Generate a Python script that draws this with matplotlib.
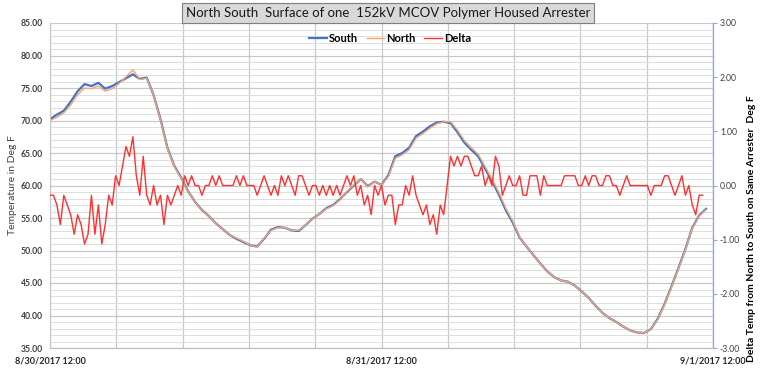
import matplotlib
matplotlib.use('Agg')
import matplotlib.pyplot as plt
import numpy as np

plt.rcParams['font.family'] = ['Lato', 'DejaVu Sans']

# temperaturas a cada 30 min (horas desde 8/30/2017 12:00)
south = [70.2, 70.9, 71.5, 72.9, 74.5, 75.6, 75.3, 75.8, 74.9, 75.3,
         75.9, 76.5, 77.1, 76.4, 76.6, 73.9, 70.2, 65.8, 63.0, 61.2,
         59.1, 57.5, 56.2, 55.3, 54.2, 53.3, 52.4, 51.8, 51.3, 50.8,
         50.6, 51.8, 53.2, 53.6, 53.5, 53.1, 53.0, 53.9, 54.9, 55.6,
         56.5, 57.0, 57.9, 59.0, 60.0, 61.0, 59.9, 60.6, 60.1, 61.6,
         64.5, 65.0, 65.8, 67.6, 68.3, 69.1, 69.7, 69.8, 69.6, 68.2,
         66.6, 65.5, 64.5, 62.6, 60.7, 58.6, 56.2, 54.3, 52.0, 50.6,
         49.3, 48.0, 46.8, 45.9, 45.4, 45.2, 44.6, 43.7, 42.7, 41.5,
         40.4, 39.6, 39.0, 38.3, 37.7, 37.4, 37.3, 37.9, 39.5, 41.8,
         44.5, 47.3, 50.2, 53.5, 55.4, 56.4]
north = [70.0, 70.5, 71.2, 72.4, 74.0, 75.0, 74.9, 75.3, 74.5, 74.9,
         75.7, 76.7, 77.8, 76.3, 76.5, 73.9, 70.1, 65.7, 62.9, 61.1,
         59.1, 57.5, 56.1, 55.3, 54.2, 53.3, 52.4, 51.9, 51.4, 50.8,
         50.5, 51.9, 53.1, 53.5, 53.5, 53.1, 53.1, 53.9, 54.9, 55.6,
         56.4, 56.9, 57.8, 59.1, 60.1, 61.0, 59.8, 60.6, 60.1, 61.4,
         64.2, 64.7, 65.5, 67.3, 68.0, 68.8, 69.5, 69.8, 69.8, 68.5,
         66.9, 65.8, 64.8, 62.9, 61.0, 58.9, 56.5, 54.5, 52.1, 50.6,
         49.3, 48.0, 46.8, 45.9, 45.4, 45.2, 44.6, 43.7, 42.7, 41.5,
         40.4, 39.6, 39.0, 38.3, 37.7, 37.4, 37.3, 37.9, 39.4, 41.7,
         44.4, 47.2, 50.1, 53.4, 55.3, 56.3]

# delta norte - sul a cada 15 min
delta = [-0.18, -0.18, -0.36, -0.72, -0.18, -0.36, -0.54, -0.90, -0.54, -0.72,
         -1.08, -0.90, -0.18, -0.90, -0.36, -1.08, -0.72, -0.18, -0.36, 0.18,
         0.00, 0.36, 0.72, 0.54, 0.90, 0.18, -0.18, 0.54, -0.18, -0.36,
         0.00, -0.36, -0.18, -0.72, -0.18, -0.36, -0.18, 0.00, -0.18, 0.18,
         0.00, 0.18, 0.00, 0.00, -0.18, 0.00, 0.00, 0.18, 0.00, 0.18,
         0.00, 0.00, 0.00, 0.00, 0.18, 0.00, 0.18, 0.00, 0.00, 0.00,
         -0.18, 0.00, 0.18, 0.00, -0.18, 0.00, -0.18, 0.18, 0.00, 0.18,
         0.00, -0.18, 0.18, 0.18, 0.00, -0.18, 0.00, 0.00, -0.18, 0.00,
         -0.18, 0.00, -0.18, 0.00, -0.18, 0.00, 0.18, 0.00, 0.18, -0.18,
         0.00, -0.36, -0.18, -0.54, 0.00, -0.18, 0.00, -0.36, -0.18, -0.18,
         -0.72, -0.36, -0.36, 0.00, -0.18, 0.18, -0.18, -0.36, -0.54, -0.36,
         -0.72, -0.54, -0.90, -0.36, -0.54, 0.00, 0.54, 0.36, 0.54, 0.36,
         0.54, 0.54, 0.36, 0.18, 0.18, 0.36, 0.00, 0.18, 0.00, 0.54,
         0.36, -0.18, 0.00, 0.18, 0.00, 0.00, 0.18, -0.18, -0.18, 0.18,
         0.18, 0.18, -0.18, 0.18, 0.00, 0.00, 0.00, 0.00, 0.00, 0.18,
         0.18, 0.18, 0.18, 0.00, 0.00, 0.18, 0.00, 0.18, 0.18, 0.00,
         0.00, 0.18, 0.18, 0.00, 0.00, -0.18, 0.00, 0.18, 0.00, 0.00,
         0.00, 0.00, 0.00, 0.00, -0.18, 0.00, 0.00, 0.00, 0.18, 0.18,
         0.00, -0.18, 0.00, 0.18, -0.18, 0.00, -0.36, -0.54, -0.18, -0.18]

rotulos_x = ['8/30/2017 12:00', '', '', '', '', '8/31/2017 12:00',
             '', '', '', '', '9/1/2017 12:00']

horas_t = np.arange(len(south)) * 0.5
horas_d = np.arange(len(delta)) * 0.25

fig = plt.figure(figsize=(7.68, 3.81), dpi=100)
ax = fig.add_axes([50/768, 33/381, 663/768, 325/381])
ax2 = ax.twinx()

ax.plot(horas_t, south, color='#4472c4', lw=1.6, label='South', zorder=3)
ax.plot(horas_t, north, color='#f4a46c', lw=1.0, label='North', zorder=4)
ax2.plot(horas_d, delta, color='#ff3030', lw=1.0, label='Delta', zorder=5)

ax.set_xlim(0, 48)
ax.set_ylim(35, 85)
ax2.set_ylim(-3, 3)

ax.set_yticks(np.arange(35, 86, 5))
ax.set_yticks(np.arange(35, 86, 1), minor=True)
ax.set_yticklabels(['%.2f' % v for v in np.arange(35, 86, 5)])
ax.set_xticks(np.arange(0, 48.1, 4.8))
ax.set_xticklabels(rotulos_x)
ax.grid(which='major', color='#c8c8c8', lw=0.9)
ax.grid(which='minor', axis='y', color='#dedede', lw=0.7)
ax.tick_params(which='both', length=0)
ax.tick_params(axis='y', labelsize=6.2, labelcolor='#404040', pad=5)
ax.tick_params(axis='x', labelsize=6.5, labelcolor='#262626', pad=6)
for lab in ax.get_xticklabels() + ax.get_yticklabels():
    lab.set_fontweight('bold')

ax2.set_yticks(np.arange(-3, 3.1, 1))
ax2.set_yticklabels(['%.2f' % v for v in np.arange(-3, 3.1, 1)])
ax2.tick_params(axis='y', length=3, color='#8faadc', labelsize=6.2, labelcolor='#404040', pad=2)

for a in (ax, ax2):
    a.spines['top'].set_visible(False)
    a.spines['left'].set_color('#c8c8c8')
    a.spines['bottom'].set_color('#bfbfbf')
    a.spines['right'].set_visible(False)
ax2.spines['right'].set_visible(True)
ax2.spines['right'].set_color('#8faadc')
ax2.spines['right'].set_linewidth(1.0)

fig.text(13/768, 1 - 185/381, 'Temperature in Deg F', rotation=90,
         ha='center', va='center', fontsize=7.5, color='#404040')
fig.text(0.978, 0.40, 'Delta Temp from North to South on Same Arrester  Deg F',
         rotation=90, ha='center', va='center', fontsize=7.5, fontweight='bold')

linhas = ax.get_lines() + ax2.get_lines()
fig.legend(linhas, [l.get_label() for l in linhas], loc='center',
           bbox_to_anchor=(390/768, 1 - 38/381), ncol=3, frameon=False,
           handlelength=1.6, handletextpad=0.15, columnspacing=0.8,
           prop={'weight': 'bold', 'size': 8})

fig.text(388/768, 1 - 13/381,
         'North South  Surface of one  152kV MCOV Polymer Housed Arrester',
         ha='center', va='center', fontsize=9.5, color='#1a1a1a',
         bbox=dict(boxstyle='square,pad=0.3', fc='#d9d9d9', ec='#7f7f7f', lw=0.8))

fig.savefig('out.png', dpi=100)
